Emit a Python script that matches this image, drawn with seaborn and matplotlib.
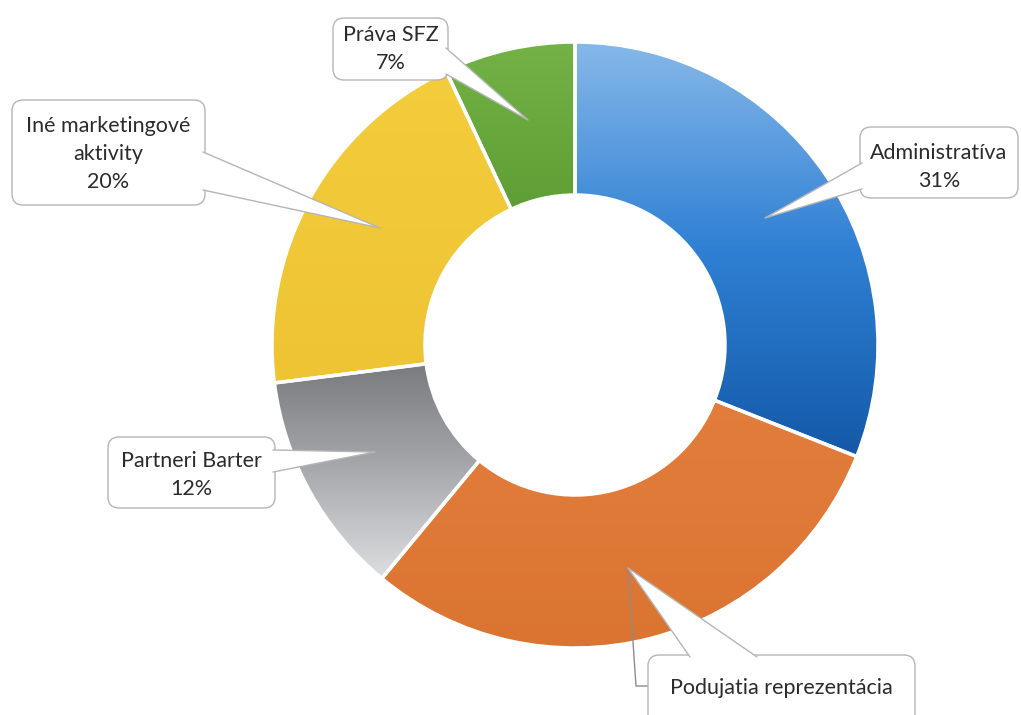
import numpy as np
import matplotlib
matplotlib.use("Agg")
import matplotlib.pyplot as plt
from matplotlib.patches import FancyBboxPatch, Polygon
import seaborn as sns

# data
labels = ["Administratíva", "Podujatia reprezentácia", "Partneri Barter",
          "Iné marketingové\naktivity", "Práva SFZ"]
shares = [31, 30, 12, 20, 7]
# the reference crops the percentage of this label at the bottom edge
show_value = [True, False, True, True, True]
# gradient stops top -> bottom for each slice
grad_stops = [
    ["#86b8e9", "#2f80d4", "#1459a8"],
    ["#e47e3c", "#e07a38", "#db7431"],
    ["#707275", "#a3a5a8", "#dcdee0"],
    ["#f4cd3c", "#f1c837", "#eec435"],
    ["#74b246", "#60a036", "#4c8729"],
]

sns.set_theme(style="white")
plt.rcParams["font.family"] = ["Lato", "DejaVu Sans"]

W, H = 1021, 715
fig = plt.figure(figsize=(W / 100, H / 100), dpi=100)
ax = fig.add_axes([0, 0, 1, 1])


def px(x, y):
    # pixel coords from top-left -> data coords
    return (x, H - y)


cx, cy = px(575, 345)
R = 303
wedges, _ = ax.pie(shares, startangle=90, counterclock=False, radius=R,
                   center=(cx, cy), colors=[s[0] for s in grad_stops],
                   wedgeprops=dict(width=153, edgecolor="white", linewidth=2.5))

for w, stops in zip(wedges, grad_stops):
    cmap = sns.blend_palette(stops, as_cmap=True)
    verts = w.get_path().vertices
    y0, y1 = verts[:, 1].min(), verts[:, 1].max()
    x0, x1 = verts[:, 0].min(), verts[:, 0].max()
    grad = np.linspace(0, 1, 256).reshape(-1, 1)
    im = ax.imshow(grad, cmap=cmap, extent=(x0, x1, y0, y1), origin="upper",
                   aspect="auto", zorder=1, interpolation="bilinear")
    im.set_clip_path(w)
    w.set_facecolor("none")
    w.set_zorder(2)

# callouts: box (x0, y0, x1, y1) in px, pointer base points, tip, first line y
callouts = [
    dict(box=(860, 127, 1018, 198), base=[(862, 163), (862, 189)], tip=(765, 218), ty=153),
    dict(box=(648, 655, 915, 760), base=[(690, 657), (757, 657)], tip=(628, 568),
         leader=[(628, 568), (636, 686), (648, 686)], ty=688),
    dict(box=(108, 437, 275, 508), base=[(273, 450), (273, 472)], tip=(375, 452), ty=461),
    dict(box=(12, 100, 205, 205), base=[(203, 152), (203, 190)], tip=(380, 228), ty=126),
    dict(box=(333, 18, 448, 80), base=[(446, 48), (446, 74)], tip=(528, 120), ty=35),
]

edge = "#b5b5b5"
for lab, val, show, co in zip(labels, shares, show_value, callouts):
    bx0, by0, bx1, by1 = co["box"]
    x0, y0 = px(bx0, by1)
    box = FancyBboxPatch((x0, y0), bx1 - bx0, by1 - by0,
                         boxstyle="round,pad=0,rounding_size=11",
                         facecolor="white", edgecolor=edge, linewidth=1.0,
                         zorder=5)
    ax.add_patch(box)
    b1, b2 = px(*co["base"][0]), px(*co["base"][1])
    tip = px(*co["tip"])
    ax.add_patch(Polygon([b1, tip, b2], closed=True, facecolor="white",
                         edgecolor="none", zorder=6))
    ax.plot([b1[0], tip[0], b2[0]], [b1[1], tip[1], b2[1]], color=edge,
            lw=1.0, zorder=6)
    if "leader" in co:
        pts = [px(*p) for p in co["leader"]]
        ax.plot([p[0] for p in pts], [p[1] for p in pts], color="#8c8c8c",
                lw=1.0, zorder=4)
    tx = (bx0 + bx1) / 2
    lines = lab.split("\n")
    if show:
        lines.append(f"{val}%")
    for i, line in enumerate(lines):
        ax.text(*px(tx, co["ty"] + i * 28), line, ha="center", va="center",
                fontsize=15.5, color="#2b2b2b", zorder=7)

ax.set_xlim(0, W)
ax.set_ylim(0, H)
ax.set_aspect("equal")
ax.axis("off")
fig.savefig("out.png", dpi=100, facecolor="white")
